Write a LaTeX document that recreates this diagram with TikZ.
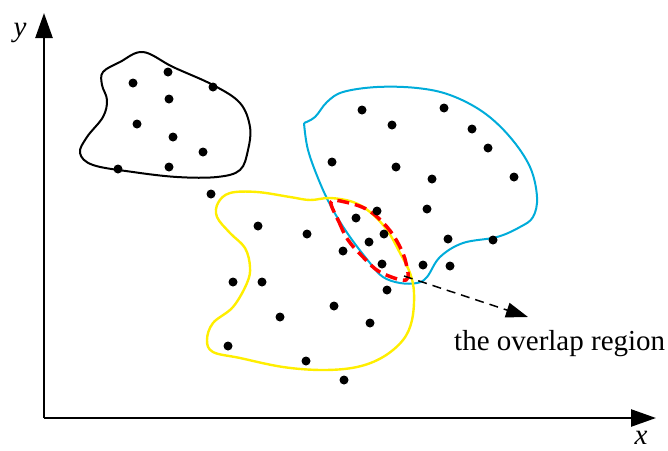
\documentclass[tikz,border=0pt]{standalone}
\usepackage{fontspec}
\setmainfont{Liberation Serif}
\usetikzlibrary{arrows.meta}
\definecolor{blobcyan}{RGB}{0,172,218}
\definecolor{blobyellow}{RGB}{255,238,0}
\tikzset{
  axis/.style={line width=2.5pt,-{Triangle[length=25pt,width=17pt]}},
  dot/.style={circle,fill=black,inner sep=0pt,minimum size=9pt},
  blob/.style={line width=2pt},
  lbl/.style={font=\fontsize{29}{33}\selectfont},
  axlbl/.style={font=\fontsize{29}{33}\selectfont\itshape,inner sep=0pt},
}
\begin{document}
\begin{tikzpicture}[x=1pt,y=-1pt]
\useasboundingbox (0,0) rectangle (668,450);
% axes
\coordinate (O) at (44,418);
\coordinate (Ytip) at (44,13);
\coordinate (Xtip) at (656,418);
\draw[axis] (O) -- (Ytip);
\draw[axis] (O) -- (Xtip);
\node[axlbl,anchor=base] (ylab) at (20,36) {y};
\node[axlbl,anchor=base] (xlab) at (641,444) {x};
% black blob
\draw[blob,black] plot[smooth cycle,tension=0.6] coordinates {
(143,52) (173,67) (213,85) (240,103) (250,127) (248,150) (240,170) (217,177)
(177,177) (133,172) (93,165) (80,153) (87,137) (103,117) (107,100) (102,85)
(103,72) (120,62)};
% cyan blob
\draw[blob,blobcyan] plot[smooth,tension=0.6] coordinates {
(304,123) (315,117) (327,102) (343,92) (377,87) (417,88) (450,95) (483,112)
(510,137) (530,167) (537,197) (533,217) (520,227) (497,237) (463,243) (440,257)
(427,277) (417,283) (400,283) (383,277) (370,263) (350,237) (333,210) (320,183)
(308,150) (304,123)};
% yellow blob
\draw[line width=2.4pt,blobyellow] plot[smooth cycle,tension=0.6] coordinates {
(330,198) (310,200) (290,197) (257,192) (230,193) (218,203) (217,217) (230,233)
(245,248) (250,267) (247,283) (233,307) (213,323) (207,340) (213,352) (240,358)
(283,367) (323,370) (357,367) (383,357) (403,340) (412,320) (414,293) (410,273)
(400,253) (387,230) (370,212) (353,202)};
% overlap region
\draw[red,line width=3.5pt,dash pattern=on 12pt off 6pt] plot[smooth cycle,tension=0.6] coordinates {
(331,202) (339,222) (348,240) (363,257) (380,272) (406,280) (406,263)
(399,245) (387,227) (368,210) (345,202)};
% dots
\foreach \p in {(133,83),(168,72),(213,87),(169,99),(137,124),(173,137),(203,152),
(118,169),(169,167),(211,194),
(362,110),(444,108),(392,125),(472,129),(488,148),(332,162),(396,167),(432,179),
(514,177),(427,209),(448,239),(493,240),(423,265),(450,266),
(377,211),(356,218),(384,234),(369,242),(343,251),(382,264),(387,290),(307,234),
(334,306),(258,226),(233,282),(262,282),(280,317),(370,323),(228,346),(306,361),(344,380)}
  \node[dot] at \p {};
% arrow and label
\coordinate (aS) at (404,276);
\coordinate (aE) at (528,317);
\draw[line width=1.5pt,dash pattern=on 9pt off 6pt,-{Triangle[length=22pt,width=15pt]}] (aS) -- (aE);
\node[lbl,anchor=base west,inner sep=0pt] (ov) at (454,350) {the overlap region};
\end{tikzpicture}
\end{document}
